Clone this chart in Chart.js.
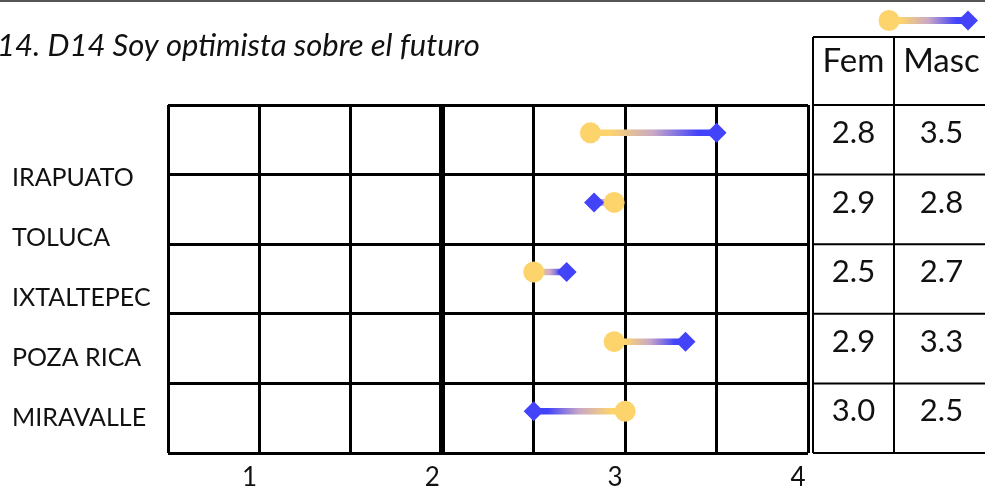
<!DOCTYPE html>
<html lang="es">
<head>
<meta charset="utf-8">
<title>14. D14 Soy optimista sobre el futuro</title>
<script src="https://cdn.jsdelivr.net/npm/chart.js@4.4.1/dist/chart.umd.min.js"></script>
<style>
  html, body { margin: 0; padding: 0; background: #fff; }
  #wrap { position: relative; width: 985px; height: 489px; }
</style>
</head>
<body>
<div id="wrap"><canvas id="chart" width="985" height="489"></canvas></div>
<script>
// Survey item and the five cities
const chartTitle = '14. D14 Soy optimista sobre el futuro';
const cities = ['IRAPUATO', 'TOLUCA', 'IXTALTEPEC', 'POZA RICA', 'MIRAVALLE'];

// Mean score per city for each group
const seriesNames = ['Fem', 'Masc'];
const femValues = [2.81, 2.94, 2.5, 2.94, 3.0];
const mascValues = [3.5, 2.83, 2.68, 3.33, 2.5];

// Labelled ticks on the score axis
const xTickValues = [1, 2, 3, 4];

const FEM_COLOR = '#FDD46C';
const MID_COLOR = '#C9A8C6';
const MASC_COLOR = '#4343FA';
const TEXT_COLOR = '#111';
const FONT = 'Lato, "Open Sans", sans-serif';

// Each dumbbell sits a little above the middle of its row band
const ROW_POS = 0.4;

function groupGradient(ctx2d, xFrom, xTo) {
  const g = ctx2d.createLinearGradient(xFrom, 0, xTo, 0);
  g.addColorStop(0, FEM_COLOR);
  g.addColorStop(0.15, FEM_COLOR);
  g.addColorStop(0.5, MID_COLOR);
  g.addColorStop(0.85, MASC_COLOR);
  g.addColorStop(1, MASC_COLOR);
  return g;
}

const datasets = cities.map((city, i) => ({
  label: city,
  data: [
    { x: femValues[i], y: i + ROW_POS },
    { x: mascValues[i], y: i + ROW_POS }
  ],
  showLine: true,
  borderWidth: 6.5,
  borderCapStyle: 'butt',
  segment: {
    borderColor: c => groupGradient(c.chart.ctx, c.p0.x, c.p1.x)
  },
  pointStyle: ['circle', 'rectRot'],
  pointRadius: [10.5, 10],
  pointHoverRadius: [10.5, 10],
  pointBackgroundColor: [FEM_COLOR, MASC_COLOR],
  pointBorderWidth: 0,
  pointHoverBorderWidth: 0,
  xAxisID: 'x',
  yAxisID: 'y'
}));

// Title, top rule, legend key and the Fem / Masc value table
const decorations = {
  id: 'decorations',
  beforeDraw(chart) {
    const { ctx, width, height } = chart;
    ctx.save();
    ctx.fillStyle = '#fff';
    ctx.fillRect(0, 0, width, height);
    ctx.restore();
  },
  afterDraw(chart) {
    const { ctx, chartArea: a, scales: { y }, width } = chart;
    ctx.save();

    // top rule
    ctx.strokeStyle = '#555';
    ctx.lineWidth = 2;
    ctx.beginPath();
    ctx.moveTo(0, 1);
    ctx.lineTo(width, 1);
    ctx.stroke();

    // title
    ctx.fillStyle = TEXT_COLOR;
    ctx.font = 'italic 31px ' + FONT;
    ctx.textAlign = 'left';
    ctx.textBaseline = 'alphabetic';
    ctx.fillText(chartTitle, -3, 56);

    // legend key: Fem circle -> Masc diamond
    const ly = 20.5;
    const lx0 = a.right + 81;
    const lx1 = a.right + 160;
    ctx.strokeStyle = groupGradient(ctx, lx0, lx1);
    ctx.lineWidth = 7;
    ctx.beginPath();
    ctx.moveTo(lx0, ly);
    ctx.lineTo(lx1, ly);
    ctx.stroke();
    ctx.fillStyle = FEM_COLOR;
    ctx.beginPath();
    ctx.arc(lx0, ly, 10.5, 0, Math.PI * 2);
    ctx.fill();
    ctx.fillStyle = MASC_COLOR;
    ctx.beginPath();
    ctx.moveTo(lx1 - 10, ly);
    ctx.lineTo(lx1, ly - 10);
    ctx.lineTo(lx1 + 10, ly);
    ctx.lineTo(lx1, ly + 10);
    ctx.closePath();
    ctx.fill();

    // value table, rows follow the plot's row bands
    const colL = a.right + 5;
    const colM = a.right + 86;
    const colR = width + 4;
    const headTop = a.top - 68;
    const bands = cities.map((_, i) => y.getPixelForValue(i)).concat([y.getPixelForValue(cities.length)]);

    ctx.strokeStyle = '#000';
    ctx.lineWidth = 2;
    ctx.beginPath();
    [headTop].concat(bands).forEach(py => {
      ctx.moveTo(colL, py);
      ctx.lineTo(colR, py);
    });
    [colL, colM].forEach(px => {
      ctx.moveTo(px, headTop);
      ctx.lineTo(px, bands[bands.length - 1]);
    });
    ctx.stroke();

    const cFem = (colL + colM) / 2;
    const cMasc = (colM + colR) / 2;
    ctx.fillStyle = TEXT_COLOR;
    ctx.textAlign = 'center';
    ctx.textBaseline = 'alphabetic';
    ctx.font = '33px ' + FONT;
    ctx.fillText(seriesNames[0], cFem, headTop + 35);
    ctx.fillText(seriesNames[1], cMasc, headTop + 35);

    ctx.font = '31px ' + FONT;
    cities.forEach((_, i) => {
      const top = bands[i];
      ctx.fillText(femValues[i].toFixed(1), cFem, top + 38);
      ctx.fillText(mascValues[i].toFixed(1), cMasc, top + 38);
    });

    ctx.restore();
  }
};

new Chart(document.getElementById('chart'), {
  type: 'scatter',
  data: { datasets },
  options: {
    responsive: false,
    animation: false,
    events: [],
    layout: { padding: { left: 12, right: 177, top: 105, bottom: 0 } },
    plugins: {
      legend: { display: false },
      title: { display: false },
      tooltip: { enabled: false }
    },
    scales: {
      x: {
        type: 'linear',
        position: 'bottom',
        min: 0.5,
        max: 4,
        ticks: {
          stepSize: 0.5,
          autoSkip: false,
          maxRotation: 0,
          padding: 9,
          labelOffset: -10,
          color: TEXT_COLOR,
          font: { family: FONT, size: 26 },
          callback: v => (xTickValues.includes(v) ? String(v) : '')
        },
        grid: {
          color: '#000',
          lineWidth: c => (c.tick && c.tick.value === 2 ? 6 : 3),
          drawTicks: false
        },
        border: { display: false },
        afterFit: s => { s.height = 36; }
      },
      y: {
        type: 'linear',
        position: 'right',
        reverse: true,
        min: 0,
        max: cities.length,
        ticks: { display: false, stepSize: 1 },
        grid: { color: '#000', lineWidth: 3, drawTicks: false },
        border: { display: false },
        afterFit: s => { s.width = 0; }
      },
      cityAxis: {
        type: 'linear',
        position: 'left',
        reverse: true,
        min: -0.22,
        max: 5.58,
        afterBuildTicks: s => { s.ticks = cities.map((_, i) => ({ value: i + 1 })); },
        ticks: {
          autoSkip: false,
          crossAlign: 'far',
          padding: 0,
          color: TEXT_COLOR,
          font: { family: FONT, size: 25 },
          callback: v => cities[v - 1]
        },
        grid: { display: false, drawTicks: false },
        border: { display: false },
        afterFit: s => { s.width = 156; }
      }
    }
  },
  plugins: [decorations]
});
</script>
</body>
</html>
